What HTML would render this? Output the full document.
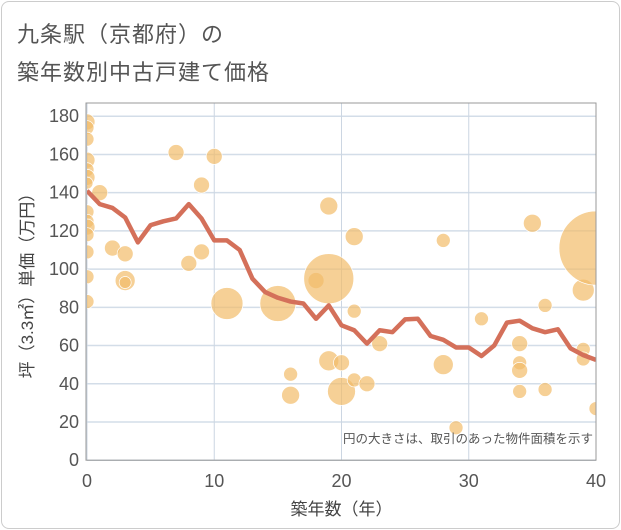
<!DOCTYPE html>
<html><head><meta charset="utf-8"><style>
body{margin:0;background:#fff;font-family:"Liberation Sans","Noto Sans CJK JP",sans-serif;}
#card{position:absolute;left:1px;top:1px;width:617px;height:526px;border:1px solid #ccc;border-radius:8px;background:#fff;}
.t{position:absolute;left:17px;font-size:22px;color:#555;letter-spacing:1px;}
</style></head><body>
<div id="card"></div>
<div class="t" style="top:17px">九条駅（京都府）の</div>
<div class="t" style="top:55px">築年数別中古戸建て価格</div>
<svg id="c" width="621" height="530" style="position:absolute;left:0;top:0"></svg>
<script>
const years=[0,1,2,3,4,5,6,7,8,9,10,11,12,13,14,15,16,17,18,19,20,21,22,23,24,25,26,27,28,29,30,31,32,33,34,35,36,37,38,39,40];
const avgPrice=[141,134,132,127,114,123,125,126.5,134,126.5,115,115,110,95,88,85,83,82,74,81,70.6,68,61,68,67,73.7,74,65,63,59,59,54.5,60,72,73,69,67,68.5,58.5,55,52.5];
const bubbleYear=[0,0,0,0,0,0,0,0,0,0,0,0,0,0,1,2,3,3,3,7,8,9,9,10,11,15,16,16,18,19,19,19,20,20,21,21,21,22,23,28,28,29,31,34,34,34,34,35,36,36,39,39,39,40,40];
const bubblePrice=[177,174,168,157,152,148,145,130,125,122,118,109,96,83,140,111,108,94,93,161,103,144,109,159,82,82,45,34,94,95,133,52,51,36,117,78,42,40,61,115,50,17,74,61,51,47,36,124,81,37,89,58,53,111,27];
const bubbleArea=[8,7,7,8,7,8,6,7,7,8,7,7,7,7,8,8,8,10,6,8,8,8,8,8,16,18,7,9,8,25,9,10,8,14,9,7,7,8,8,7,10,7,7,8,7,8,7,9,7,7,11,7,7,37,7];
const xTicks=[0,10,20,30,40];
const yTicks=[0,20,40,60,80,100,120,140,160,180];
const L=87,R=596,B=460.2,T=103;
const sx=v=>L+(v/40)*(R-L);
const sy=v=>B-v*1.911;
const svg=document.getElementById('c');
const NS='http://www.w3.org/2000/svg';
function mk(tag,attrs,parent){const e=document.createElementNS(NS,tag);for(const k in attrs)e.setAttribute(k,attrs[k]);(parent||svg).appendChild(e);return e;}
const defs=mk('defs',{});
const cp=mk('clipPath',{id:'pc'},defs);
mk('rect',{x:L,y:T,width:R-L,height:B-T},cp);
yTicks.forEach(v=>{
 const g=mk('line',{x1:L,x2:R,y1:sy(v),y2:sy(v),stroke:'#d3dde8','stroke-width':1.5});
 
 
 const t=mk('text',{x:L-8,y:sy(v)+6,'text-anchor':'end','font-size':18,fill:'#555'});
 t.textContent=v;
 
 
});
xTicks.forEach(v=>{
 const g=mk('line',{x1:sx(v),x2:sx(v),y1:T,y2:B,stroke:'#ccd6e2','stroke-width':1});
 
 
 const t=mk('text',{x:sx(v),y:487,'text-anchor':'middle','font-size':18,fill:'#555'});
 t.textContent=v;
 
 
});
const cg=mk('g',{'clip-path':'url(#pc)'});
bubbleYear.forEach((y,i)=>{
 const c=document.createElementNS(NS,'circle');
 c.setAttribute('cx',sx(y));c.setAttribute('cy',sy(bubblePrice[i]));c.setAttribute('r',bubbleArea[i]);
 c.setAttribute('fill','#f2bc6a');c.setAttribute('fill-opacity','0.7');c.setAttribute('stroke','#fff');c.setAttribute('stroke-width','0.7');
 
 
 cg.appendChild(c);
});
const p=mk('polyline',{points:years.map((y,i)=>sx(y)+','+sy(avgPrice[i])).join(' '),fill:'none',stroke:'#d4705a','stroke-width':4.5,'stroke-linejoin':'round','clip-path':'url(#pc)'});


const fr=mk('rect',{x:L-1,y:T,width:R-L+1,height:B-T,fill:'none',stroke:'#999','stroke-width':1});


const n=mk('text',{x:593,y:443,'text-anchor':'end','font-size':12.5,fill:'#555'});
n.textContent='円の大きさは、取引のあった物件面積を示す';


const xt=mk('text',{x:(L+R)/2,y:515,'text-anchor':'middle','font-size':17,fill:'#444'});
xt.textContent='築年数（年）';


const yt=mk('text',{x:0,y:0,'text-anchor':'middle','font-size':17,fill:'#444',transform:'translate(33,'+((T+B)/2)+') rotate(-90)'});
yt.textContent='坪（3.3㎡）単価（万円）';


</script>
</body></html>
